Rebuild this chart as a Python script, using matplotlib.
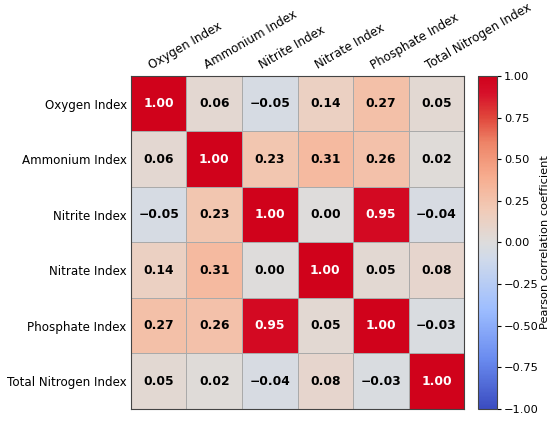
import numpy as np
import matplotlib
matplotlib.use("Agg")
import matplotlib.pyplot as plt
import matplotlib.transforms as mtransforms
from matplotlib.colors import LinearSegmentedColormap

# Index names and the correlation matrix
labels = ["Oxygen Index", "Ammonium Index", "Nitrite Index",
          "Nitrate Index", "Phosphate Index", "Total Nitrogen Index"]
row_oxygen = [1.00, 0.06, -0.05, 0.14, 0.27, 0.05]
row_ammonium = [0.06, 1.00, 0.23, 0.31, 0.26, 0.02]
row_nitrite = [-0.05, 0.23, 1.00, 0.00, 0.95, -0.04]
row_nitrate = [0.14, 0.31, 0.00, 1.00, 0.05, 0.08]
row_phosphate = [0.27, 0.26, 0.95, 0.05, 1.00, -0.03]
row_total_n = [0.05, 0.02, -0.04, 0.08, -0.03, 1.00]
cbar_ticks = [-1.00, -0.75, -0.50, -0.25, 0.00, 0.25, 0.50, 0.75, 1.00]

corr = np.array([row_oxygen, row_ammonium, row_nitrite,
                 row_nitrate, row_phosphate, row_total_n])
n = len(labels)

# coolwarm with a brighter red end, like the reference
base = plt.get_cmap("coolwarm")
stops = [0.0, 0.15, 0.3, 0.45, 0.5, 0.6, 0.7, 0.8]
cols = [base(s) for s in stops] + ["#e0443a", "#d6102a", "#d0021b"]
pos = stops + [0.88, 0.95, 1.0]
cmap = LinearSegmentedColormap.from_list("cw", list(zip(pos, cols)))

fig = plt.figure(figsize=(5.5, 4.21), dpi=100)
ax = fig.add_axes([0.238, 0.0285, 0.606, 0.791])
cax = fig.add_axes([0.869, 0.0285, 0.035, 0.791])

mesh = ax.pcolormesh(corr, cmap=cmap, vmin=-1, vmax=1,
                     edgecolors="#aaaaaa", linewidth=0.5)
ax.set_xlim(0, n)
ax.set_ylim(n, 0)

# annotate each cell
for i in range(n):
    for j in range(n):
        v = corr[i, j]
        txt = f"{v:.2f}".replace("-", "\u2212")
        color = "white" if abs(v) > 0.6 else "black"
        ax.text(j + 0.5, i + 0.5, txt, ha="center", va="center",
                fontsize=8.8, fontweight="bold", color=color)

ax.xaxis.tick_top()
ax.set_xticks(np.arange(n) + 0.5)
ax.set_xticklabels([])
ax.set_yticks(np.arange(n) + 0.5)
ax.set_yticklabels(labels, fontsize=8.6)
ax.tick_params(axis="both", length=0, pad=3)

# top labels drawn by hand so they can sit a bit left of the cell centres
shift = mtransforms.ScaledTranslation(-6 / 100, 3 / 72, fig.dpi_scale_trans)
for j, name in enumerate(labels):
    ax.text(j + 0.5, 0, name, fontsize=8.6, rotation=30, ha="left",
            va="bottom", rotation_mode="anchor",
            transform=ax.transData + shift, clip_on=False)

for s in ax.spines.values():
    s.set_linewidth(0.8)
    s.set_color("#444444")

cb = fig.colorbar(mesh, cax=cax, ticks=cbar_ticks)
cb.ax.set_yticklabels([f"{t:.2f}".replace("-", "\u2212") for t in cbar_ticks],
                      fontsize=8.2)
cb.set_label("Pearson correlation coefficient", fontsize=8.2, labelpad=1)
cb.outline.set_linewidth(0.8)
cb.outline.set_edgecolor("#444444")
cb.ax.tick_params(length=3, width=0.8, pad=2)

fig.savefig("out.png", dpi=100)
